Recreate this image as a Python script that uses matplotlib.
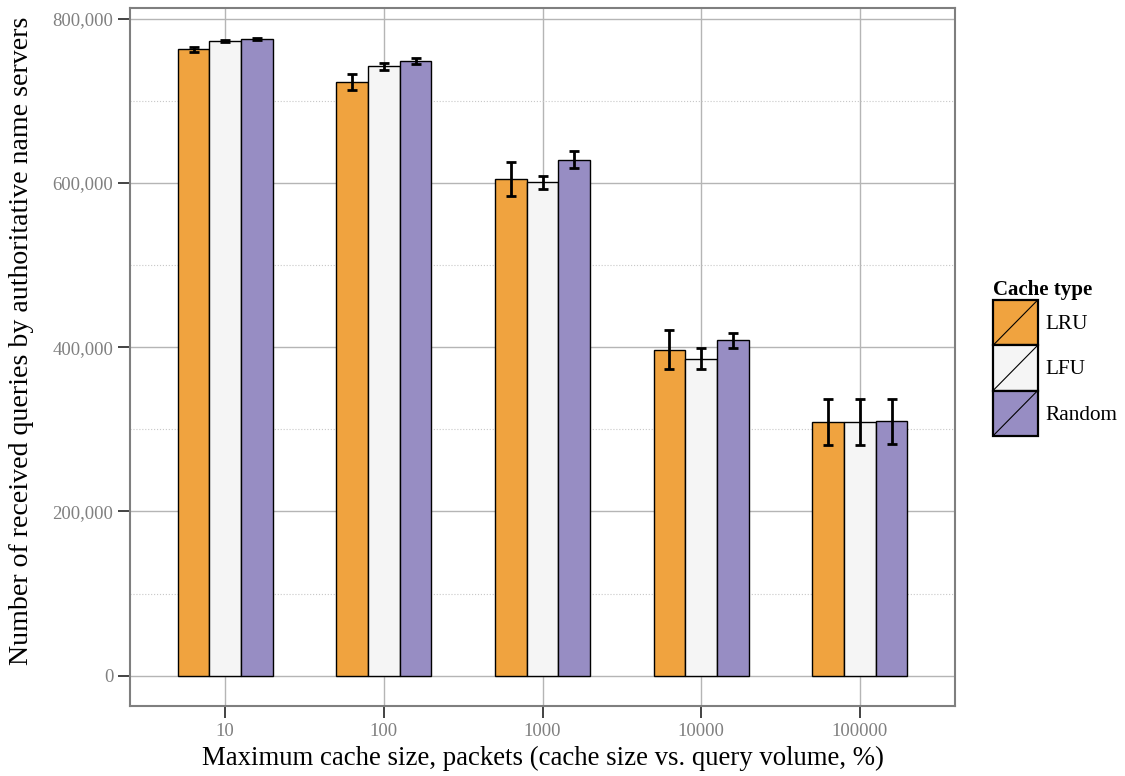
import numpy as np
import matplotlib
matplotlib.use("Agg")
import matplotlib.pyplot as plt
from matplotlib.patches import Rectangle
from matplotlib.lines import Line2D
from matplotlib.legend_handler import HandlerBase
from matplotlib.ticker import FuncFormatter, MultipleLocator

plt.rcParams['font.family'] = ['Liberation Serif', 'DejaVu Serif']

# data
cache_sizes = ['10', '100', '1000', '10000', '100000']
cache_types = ['LRU', 'LFU', 'Random']
lru_mean = [763000, 723000, 605000, 397000, 309000]
lru_err = [3000, 10000, 20500, 24000, 28000]
lfu_mean = [772500, 742000, 601000, 386000, 309000]
lfu_err = [1000, 4000, 8000, 12800, 28000]
rnd_mean = [775000, 748000, 628000, 408500, 309500]
rnd_err = [1000, 3500, 10300, 9300, 27400]
colours = ['#F0A33F', '#F5F5F5', '#978DC3']

means = [lru_mean, lfu_mean, rnd_mean]
errs = [lru_err, lfu_err, rnd_err]


class SlashKey(HandlerBase):
    # ggplot-like legend key: filled square with a diagonal line
    def create_artists(self, legend, orig_handle, xdescent, ydescent,
                       width, height, fontsize, trans):
        x0, y0 = -xdescent, -ydescent
        r = Rectangle((x0, y0), width, height, facecolor=orig_handle.get_facecolor(),
                      edgecolor='black', lw=1.6, transform=trans)
        l = Line2D([x0, x0 + width], [y0, y0 + height], color='black', lw=0.8,
                   transform=trans)
        return [r, l]


fig = plt.figure(figsize=(11.25, 7.76), dpi=100)
ax = fig.add_axes([0.1156, 0.0902, 0.7333, 0.8995])

x = np.arange(1, len(cache_sizes) + 1)
w = 0.2
offsets = [-w, 0, w]
bars = []
for i in range(3):
    b = ax.bar(x + offsets[i], means[i], width=w, color=colours[i], edgecolor='black',
               linewidth=1.0, zorder=3, label=cache_types[i])
    bars.append(b[0])
    ax.errorbar(x + offsets[i], means[i], yerr=errs[i], fmt='none', ecolor='black',
                elinewidth=2.0, capsize=3.8, capthick=2.0, zorder=4)

ax.set_xlim(0.4, 5.6)
ax.set_ylim(-37000, 813000)
ax.set_xticks(x)
ax.set_xticklabels(cache_sizes)
ax.yaxis.set_major_locator(MultipleLocator(200000))
ax.yaxis.set_minor_locator(MultipleLocator(100000))
ax.yaxis.set_major_formatter(FuncFormatter(lambda v, p: '{:,.0f}'.format(v)))

ax.grid(which='major', axis='both', color='#b5b5b5', lw=1.0, zorder=0)
ax.grid(which='minor', axis='y', color='#c8c8c8', lw=0.8, ls=':', zorder=0)
ax.set_axisbelow(True)
for s in ax.spines.values():
    s.set_color('#7f7f7f')
    s.set_linewidth(1.5)

ax.tick_params(which='major', length=8.5, width=1.2, color='#222222', labelcolor='#808080',
               labelsize=13.5, pad=3.5)
ax.tick_params(which='minor', length=0)

ax.set_xlabel('Maximum cache size, packets (cache size vs. query volume, %)', fontsize=19.3,
              labelpad=4.5)
ax.set_ylabel('Number of received queries by authoritative name servers', fontsize=20.1)
ax.yaxis.set_label_coords(-0.116, 0.5236)

leg = fig.legend(handles=bars, labels=cache_types, handler_map={bars[0].__class__: SlashKey()},
                 loc='center left', bbox_to_anchor=(0.8827, 0.5387), frameon=False,
                 title='Cache type', title_fontproperties={'weight': 'bold', 'size': 15},
                 fontsize=15.3, handlelength=2.1, handleheight=2.9, labelspacing=0.0,
                 handletextpad=0.35, alignment='left', borderpad=0, borderaxespad=0)

fig.savefig('out.png', dpi=100)
